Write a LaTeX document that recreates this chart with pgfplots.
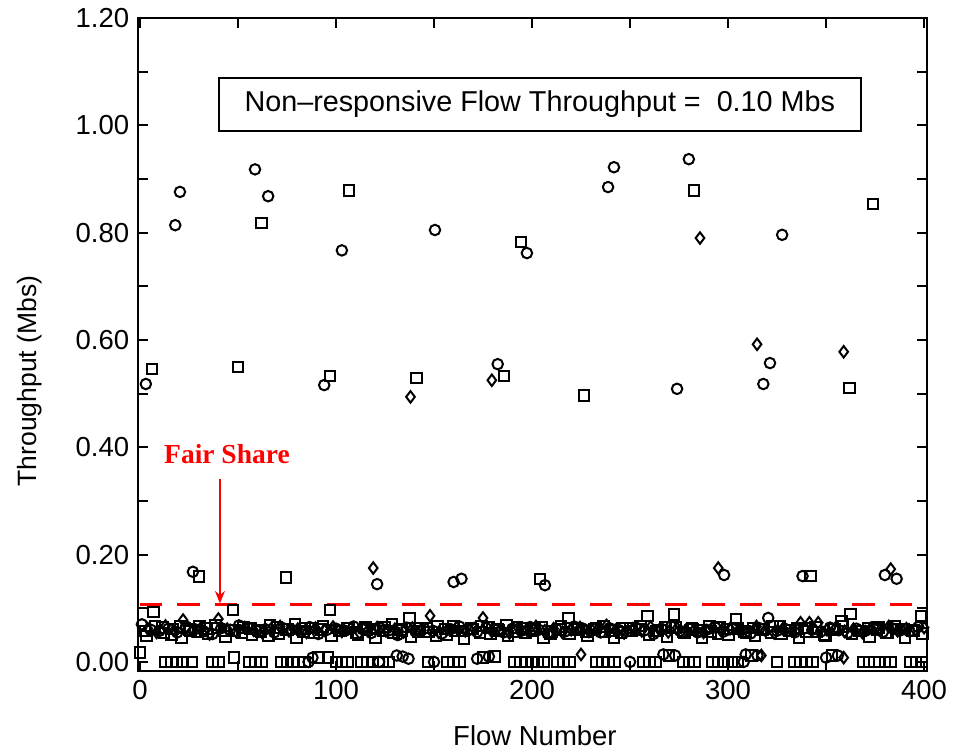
\documentclass[border=0pt]{standalone}
\usepackage{pgfplots}
\pgfplotsset{compat=1.18}
\usepackage{fontspec}
\setmainfont{Liberation Sans}
\newfontfamily\fairfont{Liberation Serif}
\usetikzlibrary{arrows.meta}
\begin{document}
\begin{tikzpicture}
\begin{axis}[
  scale only axis, width=315.6pt, height=261.2pt,
  xmin=-1, xmax=401.5, ymin=-0.017, ymax=1.2,
  xtick={0,100,200,300,400}, minor xtick={50,150,250,350},
  ytick={0,0.2,0.4,0.6,0.8,1.0,1.2}, minor ytick={0.1,0.3,0.5,0.7,0.9,1.1},
  tick align=inside, major tick length=4pt, minor tick length=4pt,
  axis line style={line width=1pt},
  every tick/.style={black, line width=0.8pt},
  yticklabel style={/pgf/number format/.cd, fixed, fixed zerofill, precision=2},
  /pgf/number format/assume math mode=true,
  tick label style={font=\fontsize{11}{13}\selectfont},
  clip=false,
  pt/.style={only marks, mark size=2.1pt, line width=0.8pt, black},
]
% cluster: circles
\addplot[pt, mark=o] table[row sep=\\] {
x y\\
1 0.070\\ 5.5 0.060\\ 10 0.058\\ 14.5 0.062\\ 19 0.055\\ 23.5 0.066\\ 28 0.061\\ 32.5 0.057\\ 37 0.052\\ 41.5 0.063\\
46 0.060\\ 50.5 0.068\\ 55 0.064\\ 59.5 0.058\\ 64 0.061\\ 68.5 0.055\\ 73 0.063\\ 77.5 0.060\\ 82 0.057\\ 86.5 0.065\\
91 0.052\\ 95.5 0.060\\ 100 0.062\\ 104.5 0.058\\ 109 0.066\\ 113.5 0.061\\ 118 0.054\\ 122.5 0.063\\ 127 0.059\\ 131.5 0.050\\
136 0.064\\ 140.5 0.057\\ 145 0.062\\ 149.5 0.058\\ 154 0.053\\ 158.5 0.061\\ 163 0.066\\ 167.5 0.059\\ 172 0.056\\ 176.5 0.063\\
181 0.060\\ 185.5 0.055\\ 190 0.062\\ 194.5 0.058\\ 199 0.065\\ 203.5 0.060\\ 208 0.053\\ 212.5 0.061\\ 217 0.057\\ 221.5 0.066\\
226 0.062\\ 230.5 0.058\\ 235 0.055\\ 239.5 0.063\\ 244 0.060\\ 248.5 0.057\\ 253 0.064\\ 257.5 0.059\\ 262 0.052\\ 266.5 0.061\\
271 0.066\\ 275.5 0.058\\ 280 0.062\\ 284.5 0.055\\ 289 0.060\\ 293.5 0.064\\ 298 0.057\\ 302.5 0.061\\ 307 0.059\\ 311.5 0.053\\
316 0.063\\ 320.5 0.082\\ 325 0.058\\ 329.5 0.061\\ 334 0.055\\ 338.5 0.062\\ 343 0.060\\ 347.5 0.057\\ 352 0.064\\ 356.5 0.059\\
361 0.054\\ 365.5 0.062\\ 370 0.058\\ 374.5 0.061\\ 379 0.056\\ 383.5 0.063\\ 388 0.059\\ 392.5 0.057\\ 397 0.065\\
};
% cluster: squares
\addplot[pt, mark=square] table[row sep=\\] {
x y\\
2.5 0.058\\ 7 0.093\\ 11.5 0.064\\ 16 0.050\\ 20.5 0.066\\ 25 0.060\\ 29.5 0.056\\ 34 0.062\\ 38.5 0.069\\ 43 0.058\\
47.5 0.097\\ 52 0.055\\ 56.5 0.062\\ 61 0.059\\ 65.5 0.048\\ 70 0.064\\ 74.5 0.060\\ 79 0.070\\ 83.5 0.057\\ 88 0.063\\
92.5 0.060\\ 97 0.097\\ 101.5 0.058\\ 106 0.062\\ 110.5 0.055\\ 115 0.065\\ 119.5 0.061\\ 124 0.058\\ 128.5 0.071\\ 133 0.060\\
137.5 0.082\\ 142 0.057\\ 146.5 0.063\\ 151 0.049\\ 155.5 0.061\\ 160 0.066\\ 164.5 0.058\\ 169 0.062\\ 173.5 0.055\\ 178 0.064\\
182.5 0.060\\ 187 0.069\\ 191.5 0.057\\ 196 0.062\\ 200.5 0.059\\ 205 0.065\\ 209.5 0.052\\ 214 0.060\\ 218.5 0.082\\ 223 0.063\\
227.5 0.057\\ 232 0.061\\ 236.5 0.066\\ 241 0.059\\ 245.5 0.055\\ 250 0.063\\ 254.5 0.060\\ 259 0.086\\ 263.5 0.058\\ 268 0.064\\
272.5 0.088\\ 277 0.056\\ 281.5 0.062\\ 286 0.059\\ 290.5 0.066\\ 295 0.053\\ 299.5 0.061\\ 304 0.080\\ 308.5 0.057\\ 313 0.063\\
317.5 0.060\\ 322 0.055\\ 326.5 0.066\\ 331 0.059\\ 335.5 0.062\\ 340 0.057\\ 344.5 0.064\\ 349 0.050\\ 353.5 0.061\\ 358 0.076\\
362.5 0.089\\ 367 0.058\\ 371.5 0.063\\ 376 0.060\\ 380.5 0.055\\ 385 0.066\\ 389.5 0.061\\ 394 0.058\\ 398.5 0.086\\
};
% cluster: more squares
\addplot[pt, mark=square] table[row sep=\\] {
x y\\
3.25 0.048\\ 7.75 0.066\\ 12.25 0.054\\ 16.75 0.061\\ 21.25 0.045\\ 25.75 0.058\\ 30.25 0.067\\ 34.75 0.052\\ 39.25 0.063\\ 43.75 0.047\\
48.25 0.059\\ 52.75 0.064\\ 57.25 0.050\\ 61.75 0.057\\ 66.25 0.068\\ 70.75 0.053\\ 75.25 0.060\\ 79.75 0.046\\ 84.25 0.062\\ 88.75 0.055\\
93.25 0.066\\ 97.75 0.049\\ 102.25 0.058\\ 106.75 0.063\\ 111.25 0.051\\ 115.75 0.060\\ 120.25 0.045\\ 124.75 0.065\\ 129.25 0.054\\ 133.75 0.059\\
138.25 0.047\\ 142.75 0.062\\ 147.25 0.056\\ 151.75 0.066\\ 156.25 0.050\\ 160.75 0.058\\ 165.25 0.044\\ 169.75 0.061\\ 174.25 0.067\\ 178.75 0.053\\
183.25 0.059\\ 187.75 0.048\\ 192.25 0.064\\ 196.75 0.055\\ 201.25 0.061\\ 205.75 0.046\\ 210.25 0.057\\ 214.75 0.066\\ 219.25 0.052\\ 223.75 0.060\\
228.25 0.049\\ 232.75 0.063\\ 237.25 0.056\\ 241.75 0.045\\ 246.25 0.062\\ 250.75 0.058\\ 255.25 0.067\\ 259.75 0.051\\ 264.25 0.059\\ 268.75 0.047\\
273.25 0.064\\ 277.75 0.054\\ 282.25 0.060\\ 286.75 0.046\\ 291.25 0.057\\ 295.75 0.065\\ 300.25 0.050\\ 304.75 0.062\\ 309.25 0.055\\ 313.75 0.048\\
318.25 0.061\\ 322.75 0.067\\ 327.25 0.053\\ 331.75 0.059\\ 336.25 0.045\\ 340.75 0.063\\ 345.25 0.056\\ 349.75 0.049\\ 354.25 0.060\\ 358.75 0.066\\
363.25 0.052\\ 367.75 0.058\\ 372.25 0.047\\ 376.75 0.064\\ 381.25 0.055\\ 385.75 0.061\\ 390.25 0.046\\ 394.75 0.059\\ 399.25 0.053\\
};
% cluster: diamonds
\addplot[pt, mark=diamond, mark size=2.3pt] table[row sep=\\] {
x y\\
4 0.062\\ 8.5 0.055\\ 13 0.067\\ 17.5 0.059\\ 22 0.078\\ 26.5 0.058\\ 31 0.063\\ 35.5 0.052\\ 40 0.080\\ 44.5 0.061\\
49 0.057\\ 53.5 0.064\\ 58 0.059\\ 62.5 0.054\\ 67 0.062\\ 71.5 0.066\\ 76 0.058\\ 80.5 0.061\\ 85 0.055\\ 89.5 0.063\\
94 0.059\\ 98.5 0.065\\ 103 0.057\\ 107.5 0.062\\ 112 0.054\\ 116.5 0.060\\ 121 0.064\\ 125.5 0.058\\ 130 0.061\\ 134.5 0.056\\
139 0.063\\ 143.5 0.059\\ 148 0.086\\ 152.5 0.055\\ 157 0.061\\ 161.5 0.064\\ 166 0.058\\ 170.5 0.062\\ 175 0.082\\ 179.5 0.057\\
184 0.061\\ 188.5 0.054\\ 193 0.063\\ 197.5 0.059\\ 202 0.066\\ 206.5 0.058\\ 211 0.062\\ 215.5 0.055\\ 220 0.060\\ 224.5 0.064\\
229 0.057\\ 233.5 0.061\\ 238 0.068\\ 242.5 0.059\\ 247 0.054\\ 251.5 0.062\\ 256 0.058\\ 260.5 0.065\\ 265 0.060\\ 269.5 0.056\\
274 0.063\\ 278.5 0.059\\ 283 0.061\\ 287.5 0.055\\ 292 0.064\\ 296.5 0.058\\ 301 0.062\\ 305.5 0.060\\ 310 0.057\\ 314.5 0.066\\
319 0.059\\ 323.5 0.054\\ 328 0.062\\ 332.5 0.058\\ 337 0.073\\ 341.5 0.073\\ 346 0.073\\ 350.5 0.060\\ 355 0.064\\ 359.5 0.057\\
364 0.061\\ 368.5 0.055\\ 373 0.063\\ 377.5 0.059\\ 382 0.066\\ 386.5 0.058\\ 391 0.062\\ 395.5 0.060\\ 400 0.064\\
};
% outliers and near-zero flows: circles
\addplot[pt, mark=o] table[row sep=\\] {
x y\\
3 0.518\\ 18 0.814\\ 20.4 0.876\\ 27 0.168\\ 58.7 0.918\\ 65.4 0.868\\ 94 0.516\\ 103 0.767\\ 121 0.145\\ 150.5 0.805\\
160 0.149\\ 164 0.155\\ 182.5 0.555\\ 197.4 0.762\\ 206.6 0.143\\ 238.8 0.885\\ 241.8 0.922\\ 274 0.509\\ 280 0.937\\ 298 0.162\\
318 0.518\\ 321.4 0.557\\ 327.6 0.796\\ 338 0.160\\ 380 0.162\\ 386 0.155\\
150 0\\ 250 0\\ 122 0\\ 86 0\\ 308 0\\
88 0.008\\ 131 0.012\\ 134 0.010\\ 137 0.006\\ 172 0.006\\ 178 0.010\\ 267 0.014\\ 273 0.012\\ 309 0.014\\ 315 0.012\\ 350 0.008\\ 356 0.012\\
};
% outliers and zero flows: squares
\addplot[pt, mark=square] table[row sep=\\] {
x y\\
6.2 0.546\\ 30 0.159\\ 50 0.550\\ 62 0.818\\ 74.5 0.157\\ 97 0.533\\ 106.6 0.879\\ 141 0.529\\ 185.7 0.533\\ 194.4 0.783\\
204 0.155\\ 226.5 0.497\\ 282.7 0.879\\ 342 0.160\\ 362 0.511\\ 374 0.853\\
0 0.018\\ 48 0.008\\ 91 0.008\\ 96 0.008\\ 175 0.008\\ 181 0.010\\ 270 0.012\\ 312 0.012\\ 353 0.012\\
13 0\\ 16 0\\ 19 0\\ 22 0\\ 26.5 0\\ 37 0\\ 40 0\\ 56 0\\ 59 0\\ 62 0\\ 72 0\\ 75 0\\ 78 0\\ 81 0\\ 84 0\\
100 0\\ 103 0\\ 106 0\\ 113 0\\ 116 0\\ 119 0\\ 124 0\\ 127 0\\ 147 0\\ 157 0\\ 160 0\\ 163 0\\
191 0\\ 194 0\\ 197 0\\ 200 0\\ 203 0\\ 206 0\\ 213 0\\ 216 0\\ 219 0\\ 233 0\\ 236 0\\ 239 0\\ 242 0\\
257 0\\ 260 0\\ 263 0\\ 277 0\\ 280 0\\ 283 0\\ 292 0\\ 295 0\\ 298 0\\ 302 0\\ 305 0\\ 325 0\\
334 0\\ 337 0\\ 340 0\\ 343 0\\ 369 0\\ 372 0\\ 377 0\\ 380 0\\ 383 0\\ 393 0\\ 396 0\\ 399 0\\
};
% outliers and near-zero flows: diamonds
\addplot[pt, mark=diamond, mark size=2.3pt] table[row sep=\\] {
x y\\
119 0.175\\ 138 0.494\\ 179.5 0.525\\ 285.7 0.790\\ 295 0.175\\ 314.8 0.592\\ 359 0.578\\ 383 0.173\\
225 0.014\\ 317 0.012\\ 359 0.008\\
};
% fair share line
\addplot[red, line width=1.2pt, dash pattern=on 9pt off 6pt] coordinates {(0,0.107) (400,0.107)};
\draw[red, line width=0.6pt, -{Stealth[length=5pt,width=4pt]}] (axis cs:40.8,0.341) -- (axis cs:40.8,0.109);
\node[text=red, font=\fairfont\bfseries\fontsize{11}{13}\selectfont] at (axis cs:44.4,0.388) {Fair Share};
\node[draw, fill=white, line width=0.8pt, minimum width=256.8pt, minimum height=21.2pt, inner sep=0pt,
      font=\fontsize{11.5}{13}\selectfont] at (axis cs:204,1.039) {Non--responsive Flow Throughput = \ 0.10 Mbs};
\node[rotate=90, font=\fontsize{10.6}{13}\selectfont] at (axis cs:-56.1,0.5236) {Throughput (Mbs)};
\node[font=\fontsize{11}{13}\selectfont] at (axis cs:201.5,-0.138) {Flow Number};
\coordinate (SW) at (rel axis cs:0,0);
\coordinate (NE) at (rel axis cs:1,1);
\end{axis}
\path (SW) +(-55.2pt,-31.6pt) rectangle ([shift={(15.2pt,6.8pt)}]NE);
\end{tikzpicture}
\end{document}
